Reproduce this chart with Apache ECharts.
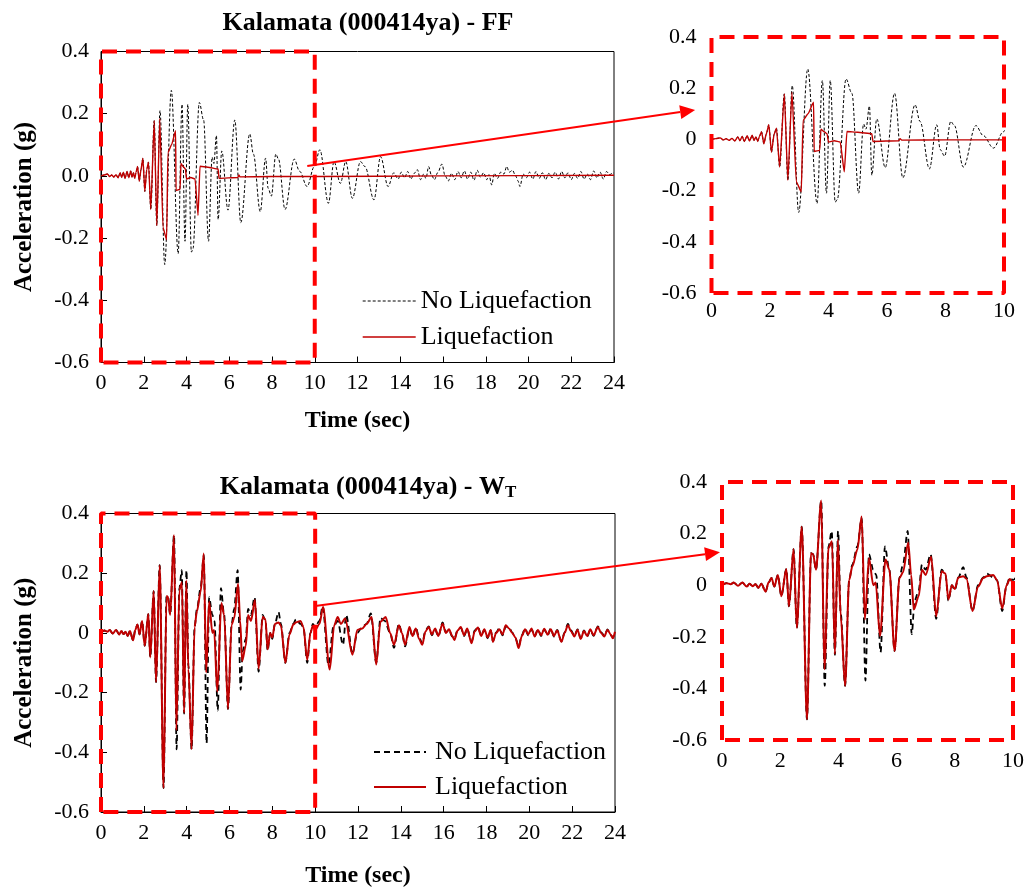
<!DOCTYPE html>
<html>
<head>
<meta charset="utf-8">
<script src="https://cdn.jsdelivr.net/npm/echarts@6/dist/echarts.min.js"></script>
<style>html,body{margin:0;padding:0;background:#fff}#c{width:1027px;height:889px}</style>
</head>
<body>
<div id="c"></div>
<script>
// ---------- DATA (time s, acceleration g) ----------
const ffEarly = [[0,0],[0.15,0.003],[0.3,0.006],[0.4,-0.002],[0.5,0.003],[0.6,-0.004],[0.7,0.004],[0.8,-0.006],[0.9,0.01],[0.97,-0.005],[1.05,0.012],[1.12,-0.008],[1.22,0.014],[1.3,-0.006],[1.39,0.016],[1.45,-0.004],[1.52,0.01],[1.58,-0.008],[1.64,0.012],[1.71,0.03],[1.79,-0.017],[1.87,0.02],[1.96,0.057],[2.05,-0.05],[2.14,0.02],[2.22,0.044],[2.33,-0.108],[2.49,0.178],[2.61,-0.16]];
const ffNoLiqLate = [[2.76,0.21],[2.98,-0.285],[3.29,0.275],[3.61,-0.25],[3.79,0.23],[3.93,-0.21],[4.06,0.23],[4.23,-0.245],[4.3,-0.235],[4.6,0.236],[4.8,0.18],[5.03,-0.21],[5.2,0.06],[5.28,0.04],[5.4,0.13],[5.48,-0.14],[5.65,0.08],[5.94,-0.11],[6.26,0.18],[6.54,-0.15],[6.96,0.135],[7.13,0.07],[7.45,-0.115],[7.7,0.057],[7.82,-0.04],[7.97,-0.065],[8.18,0.07],[8.3,0.055],[8.61,-0.108],[9.04,0.054],[9.29,0.015],[9.64,-0.034],[9.98,0.03],[10.24,0.084],[10.64,-0.088],[10.9,0.046],[11.2,-0.024],[11.45,0.046],[11.76,-0.072],[12.14,0.046],[12.35,0.03],[12.77,-0.077],[13.08,0.062],[13.43,-0.034],[13.7,0.01],[13.9,-0.01],[14.05,0.012],[14.2,-0.006],[14.35,0.014],[14.5,-0.01],[14.65,0.008],[14.8,0.02],[14.95,-0.012],[15.1,0.006],[15.2,-0.008],[15.33,0.03],[15.45,0.004],[15.6,-0.012],[15.75,0.01],[15.95,0.038],[16.1,0.0],[16.25,-0.016],[16.4,0.008],[16.55,-0.012],[16.7,0.014],[16.85,-0.006],[17.0,0.016],[17.15,-0.01],[17.3,0.012],[17.45,-0.014],[17.6,0.018],[17.75,-0.004],[17.9,0.01],[18.05,-0.012],[18.15,0.004],[18.28,-0.029],[18.4,0.008],[18.55,-0.008],[18.7,0.012],[18.85,0.006],[18.98,0.03],[19.1,0.012],[19.25,0.018],[19.4,0.0],[19.5,-0.015],[19.6,-0.034],[19.75,0.006],[19.9,-0.006],[20.05,0.012],[20.2,-0.01],[20.35,0.014],[20.5,-0.008],[20.65,0.01],[20.8,-0.012],[20.95,0.008],[21.1,-0.006],[21.25,0.012],[21.4,-0.01],[21.55,0.014],[21.7,-0.006],[21.85,0.01],[22.0,-0.012],[22.15,0.008],[22.3,-0.008],[22.45,0.014],[22.6,-0.01],[22.75,0.006],[22.9,-0.012],[23.05,0.016],[23.2,-0.006],[23.35,0.012],[23.5,-0.01],[23.65,0.014],[23.8,0.004],[23.95,0.01],[24,0.008]];
const ffLiqLate = [[2.75,0.184],[2.9,-0.166],[3.07,-0.205],[3.13,0.074],[3.3,0.1],[3.49,0.145],[3.51,-0.047],[3.7,-0.043],[3.74,0.04],[3.85,0.03],[3.95,0.022],[4.0,-0.01],[4.2,-0.005],[4.4,-0.01],[4.54,-0.127],[4.63,0.031],[5.0,0.028],[5.48,0.022],[5.52,-0.008],[6.4,-0.005],[6.45,0.003],[6.5,-0.003],[8.0,-0.002],[10,-0.002],[16,0.0],[24,0.002]];

const wtEarly = [[0,0],[0.15,0.008],[0.3,0.004],[0.4,0.01],[0.55,-0.002],[0.7,0.01],[0.85,-0.005],[0.95,0.006],[1.05,-0.004],[1.15,0.004],[1.25,-0.01],[1.35,0.006],[1.5,-0.025],[1.6,0.01],[1.7,0.028],[1.8,-0.005],[1.92,0.04],[2.04,-0.043],[2.21,0.063],[2.3,-0.082],[2.46,0.14],[2.57,-0.165],[2.74,0.227],[2.92,-0.52],[3.06,0.124],[3.13,0.12],[3.23,0.06],[3.41,0.328]];
const wtLiqLate = [[3.52,-0.326],[3.66,0.144],[3.78,0.17],[3.88,-0.268],[3.98,0.176],[4.08,-0.12],[4.23,-0.39],[4.37,0.02],[4.48,0.073],[4.65,0.137],[4.8,0.266],[4.91,-0.133],[5.05,0.105],[5.2,0.0],[5.28,0.01],[5.43,-0.197],[5.62,0.1],[5.75,0.06],[5.93,-0.255],[6.1,0.028],[6.22,0.05],[6.4,0.165],[6.5,0.04],[6.59,-0.094],[6.76,-0.043],[6.87,0.06],[7.0,0.04],[7.19,0.11],[7.36,-0.12],[7.55,0.054],[7.68,0.045],[7.78,-0.055],[7.9,0.0],[8.0,-0.015],[8.12,0.03],[8.29,0.035],[8.4,0.025],[8.61,-0.1],[8.8,-0.005],[8.98,0.028],[9.1,0.035],[9.32,0.04],[9.45,0.02],[9.63,-0.09],[9.78,0.0],[9.89,0.024],[10.0,0.01],[10.2,0.03],[10.37,0.087],[10.68,-0.123],[10.89,0.026],[11.05,0.053],[11.2,0.03],[11.4,0.048],[11.74,-0.073],[11.97,0.01],[12.2,0.015],[12.4,0.03],[12.64,0.053],[12.85,-0.106],[13.05,0.037],[13.29,0.053],[13.5,0.0],[13.68,-0.04],[13.91,0.026],[14.05,0.0],[14.2,-0.04],[14.4,0.02],[14.55,-0.01],[14.7,0.015],[14.85,-0.02],[15.0,-0.04],[15.15,0.005],[15.3,0.02],[15.45,-0.005],[15.6,0.015],[15.75,-0.01],[15.95,0.031],[16.1,0.0],[16.25,0.012],[16.4,-0.01],[16.5,-0.024],[16.65,0.008],[16.8,0.02],[16.95,-0.008],[17.1,0.015],[17.3,-0.035],[17.45,0.005],[17.6,0.018],[17.75,-0.01],[17.9,0.012],[18.05,-0.015],[18.2,0.01],[18.3,-0.03],[18.45,0.0],[18.6,0.012],[18.75,-0.005],[18.9,0.026],[19.05,0.015],[19.2,0.0],[19.35,-0.015],[19.5,-0.051],[19.65,-0.01],[19.8,0.012],[19.95,-0.005],[20.1,0.015],[20.25,-0.012],[20.4,0.01],[20.55,-0.008],[20.7,0.014],[20.85,-0.006],[21.0,0.012],[21.15,-0.01],[21.3,0.008],[21.5,-0.03],[21.65,0.0],[21.8,0.026],[21.95,0.005],[22.1,-0.012],[22.25,0.01],[22.4,-0.02],[22.55,0.006],[22.7,-0.01],[22.85,0.012],[23.0,-0.008],[23.2,0.02],[23.35,0.0],[23.5,-0.012],[23.65,0.01],[23.8,-0.005],[23.9,-0.018],[24,0.004]];
const wtNoLiqLate = [[3.53,-0.39],[3.66,0.15],[3.77,0.21],[3.88,-0.27],[3.99,0.21],[4.08,-0.11],[4.23,-0.39],[4.37,0.02],[4.48,0.08],[4.65,0.15],[4.8,0.26],[4.93,-0.37],[5.05,0.12],[5.2,0.06],[5.3,0.04],[5.45,-0.26],[5.6,0.15],[5.75,0.06],[5.93,-0.255],[6.1,0.03],[6.22,0.08],[6.38,0.21],[6.52,-0.19],[6.62,-0.06],[6.76,-0.02],[6.87,0.08],[7.0,0.06],[7.17,0.12],[7.36,-0.13],[7.55,0.06],[7.68,0.04],[7.78,-0.06],[7.9,0.0],[8.0,-0.02],[8.12,0.03],[8.29,0.07],[8.4,0.03],[8.61,-0.1],[8.8,0.0],[8.98,0.03],[9.1,0.045],[9.32,0.03],[9.45,0.02],[9.63,-0.1],[9.78,0.0],[9.89,0.03],[10.0,0.02],[10.2,0.04],[10.35,0.09],[10.62,-0.107],[10.85,0.02],[11.05,0.04],[11.3,-0.04],[11.45,0.06],[11.74,-0.07],[11.97,0.0],[12.2,0.02],[12.4,0.03],[12.6,0.065],[12.85,-0.1],[13.05,0.05],[13.25,0.04],[13.5,0.0],[13.68,-0.05],[13.91,0.03],[14.05,0.0],[14.2,-0.045],[14.4,0.015],[14.55,-0.012],[14.7,0.018],[14.85,-0.015],[15.0,-0.035],[15.15,0.008],[15.3,0.022],[15.45,-0.008],[15.6,0.012],[15.75,-0.012],[15.95,0.035],[16.1,0.002],[16.25,0.01],[16.4,-0.012],[16.5,-0.02],[16.65,0.01],[16.8,0.018],[16.95,-0.01],[17.1,0.012],[17.3,-0.03],[17.45,0.008],[17.6,0.02],[17.75,-0.008],[17.9,0.01],[18.05,-0.018],[18.2,0.008],[18.3,-0.028],[18.45,0.002],[18.6,0.015],[18.75,-0.008],[18.9,0.022],[19.05,0.018],[19.2,0.002],[19.35,-0.018],[19.5,-0.045],[19.65,-0.008],[19.8,0.015],[19.95,-0.008],[20.1,0.012],[20.25,-0.01],[20.4,0.012],[20.55,-0.01],[20.7,0.012],[20.85,-0.008],[21.0,0.015],[21.15,-0.012],[21.3,0.01],[21.5,-0.028],[21.65,0.002],[21.8,0.03],[21.95,0.008],[22.1,-0.01],[22.25,0.012],[22.4,-0.018],[22.55,0.008],[22.7,-0.012],[22.85,0.01],[23.0,-0.01],[23.2,0.022],[23.35,0.002],[23.5,-0.01],[23.65,0.012],[23.8,-0.008],[23.9,-0.015],[24,0.006]];

const zoomBox = [[0,-0.6],[0,0.4],[10,0.4],[10,-0.6],[0,-0.6]];
const mainXTicks = ['0','2','4','6','8','10','12','14','16','18','20','22','24'];
const insetXTicks = ['0','2','4','6','8','10'];
const ffMainYTicks = ['-0.6','-0.4','-0.2','0.0','0.2','0.4'];
const otherYTicks = ['-0.6','-0.4','-0.2','0','0.2','0.4'];
const titles = ['Kalamata (000414ya) - FF', 'Kalamata (000414ya) - W{sub|T}'];
const seriesNames = ['No Liquefaction', 'Liquefaction'];
const axisNames = {x: 'Time (sec)', y: 'Acceleration (g)'};
// annotation arrows: [from (main chart data), to (inset data)]
const arrowFF = {from: [9.65, 0.032], to: [-0.56, 0.115]};
const arrowWT = {from: [10.0, 0.09], to: [-0.07, 0.128]};

// ---------- STYLE ----------
const FONT = 'Liberation Serif';
const RED = '#c00000';
const BOX = '#ff0000';

function yLab(arr){ return v => arr[Math.round((v + 0.6) / 0.2)]; }
function xLab(arr){ return v => arr[Math.round(v / 2)]; }

function mainX(gi, nameGap){
  return {gridIndex: gi, type:'value', min:0, max:24, interval:2,
    name: axisNames.x, nameLocation:'middle', nameGap: nameGap,
    nameTextStyle:{fontFamily:FONT, fontWeight:'bold', fontSize:24, color:'#000'},
    axisLine:{show:true, onZero:false, lineStyle:{color:'#000', width:1}},
    axisTick:{show:true, inside:true, length:6, lineStyle:{color:'#000'}},
    splitLine:{show:false},
    axisLabel:{fontFamily:FONT, fontSize:22, color:'#000', margin:10, formatter: xLab(mainXTicks)}};
}
function mainY(gi, labels){
  return {gridIndex: gi, type:'value', min:-0.6, max:0.4, interval:0.2,
    name: axisNames.y, nameLocation:'middle', nameGap: 64,
    nameTextStyle:{fontFamily:FONT, fontWeight:'bold', fontSize:25, color:'#000'},
    axisLine:{show:true, onZero:false, lineStyle:{color:'#000', width:1}},
    axisTick:{show:true, inside:true, length:6, lineStyle:{color:'#000'}},
    splitLine:{show:false},
    axisLabel:{fontFamily:FONT, fontSize:22, color:'#000', margin:12, formatter: yLab(labels)}};
}
function insetX(gi, margin){
  return {gridIndex: gi, type:'value', min:0, max:10, interval:2,
    axisLine:{show:false}, axisTick:{show:false}, splitLine:{show:false},
    axisLabel:{fontFamily:FONT, fontSize:22, color:'#000', margin:margin, formatter: xLab(insetXTicks)}};
}
function insetY(gi){
  return {gridIndex: gi, type:'value', min:-0.6, max:0.4, interval:0.2,
    axisLine:{show:false}, axisTick:{show:false}, splitLine:{show:false},
    axisLabel:{fontFamily:FONT, fontSize:22, color:'#000', margin:15, formatter: yLab(otherYTicks)}};
}
function line(name, gi, data, ls, smooth){
  return {type:'line', name: name, xAxisIndex: gi, yAxisIndex: gi, data: data,
    symbol:'none', showSymbol:false, smooth: smooth, smoothMonotone:'x',
    itemStyle:{color: ls.color}, lineStyle: ls, animation:false, silent:true};
}
function box(gi){
  return {type:'line', name:'box', xAxisIndex: gi, yAxisIndex: gi, data: zoomBox,
    symbol:'none', clip:false, silent:true, animation:false, z:5,
    lineStyle:{color:BOX, width:4, type:[15,9]}};
}

const ffNoLiq = ffEarly.concat(ffNoLiqLate);
const ffLiq = ffEarly.concat(ffLiqLate);
const wtNoLiq = wtEarly.concat(wtNoLiqLate);
const wtLiq = wtEarly.concat(wtLiqLate);

const ffNoLiqStyle = {color:'#000', width:1, type:[3,2]};
const ffLiqStyle = {color:RED, width:1.4};
const wtNoLiqStyle = {color:'#000', width:1.8, type:[6,4]};
const wtLiqStyle = {color:RED, width:2};
const hiddenSymbol = {opacity:0, borderWidth:0};

const chart = echarts.init(document.getElementById('c'), null, {renderer:'canvas'});
const option = {
  backgroundColor:'#fff',
  animation:false,
  title: [
    {text: titles[0], left: 363, top: 5, textAlign:'center',
     textStyle:{fontFamily:FONT, fontWeight:'bold', fontSize:26, color:'#000'}},
    {text: titles[1], left: 363, top: 469, textAlign:'center',
     textStyle:{fontFamily:FONT, fontWeight:'bold', fontSize:26, color:'#000',
       rich:{sub:{fontFamily:FONT, fontWeight:'bold', fontSize:17, color:'#000', verticalAlign:'bottom', padding:[10,0,0,0]}}}}
  ],
  legend: [
    {orient:'vertical', left:357, top:283, itemWidth:53, itemHeight:12, itemGap:10,
     textStyle:{fontFamily:FONT, fontSize:26, color:'#000'}, itemStyle: hiddenSymbol,
     data:[{name:seriesNames[0], lineStyle: ffNoLiqStyle, itemStyle: hiddenSymbol}, {name:seriesNames[1], lineStyle: ffLiqStyle, itemStyle: hiddenSymbol}],
     selectedMode:false},
    {orient:'vertical', left:368, top:734, itemWidth:52, itemHeight:12, itemGap:9,
     textStyle:{fontFamily:FONT, fontSize:26, color:'#000', padding:[0,0,0,4]}, itemStyle: hiddenSymbol,
     data:[{name:seriesNames[0], lineStyle: wtNoLiqStyle, itemStyle: hiddenSymbol}, {name:seriesNames[1], lineStyle: wtLiqStyle, itemStyle: hiddenSymbol}],
     selectedMode:false}
  ],
  grid: [
    {left:101, top:51.5, width:513, height:311, show:true, borderColor:'#000', borderWidth:1, backgroundColor:'transparent'},
    {left:711.5, top:37, width:292.5, height:256},
    {left:101, top:513.5, width:514, height:302.5, show:true, borderColor:'#000', borderWidth:1, backgroundColor:'transparent'},
    {left:722, top:482, width:292, height:258}
  ],
  xAxis: [mainX(0, 46), insetX(1, 7), mainX(2, 52), insetX(3, 10)],
  yAxis: [mainY(0, ffMainYTicks), insetY(1), mainY(2, otherYTicks), insetY(3)],
  series: [
    line(seriesNames[0], 0, ffNoLiq, ffNoLiqStyle, 0.35),
    line(seriesNames[1], 0, ffLiq, ffLiqStyle, 0.15),
    box(0),
    line(seriesNames[0], 1, ffNoLiq, ffNoLiqStyle, 0.35),
    line(seriesNames[1], 1, ffLiq, ffLiqStyle, 0.15),
    box(1),
    line(seriesNames[0], 2, wtNoLiq, wtNoLiqStyle, 0.3),
    line(seriesNames[1], 2, wtLiq, wtLiqStyle, 0.3),
    box(2),
    line(seriesNames[0], 3, wtNoLiq, wtNoLiqStyle, 0.3),
    line(seriesNames[1], 3, wtLiq, wtLiqStyle, 0.3),
    box(3)
  ]
};
chart.setOption(option);

function arrowGraphic(p1, p2){
  const dx = p2[0]-p1[0], dy = p2[1]-p1[1];
  const len = Math.hypot(dx, dy), ux = dx/len, uy = dy/len;
  const hl = 15, hw = 7;
  const b = [p2[0]-ux*hl, p2[1]-uy*hl];
  return [
    {type:'line', z:100, shape:{x1:p1[0], y1:p1[1], x2:b[0], y2:b[1]}, style:{stroke:BOX, lineWidth:2}},
    {type:'polygon', z:100, shape:{points:[p2, [b[0]-uy*hw, b[1]+ux*hw], [b[0]+uy*hw, b[1]-ux*hw]]}, style:{fill:BOX}}
  ];
}
const a1 = arrowGraphic(chart.convertToPixel({gridIndex:0}, arrowFF.from), chart.convertToPixel({gridIndex:1}, arrowFF.to));
const a2 = arrowGraphic(chart.convertToPixel({gridIndex:2}, arrowWT.from), chart.convertToPixel({gridIndex:3}, arrowWT.to));
chart.setOption({graphic: a1.concat(a2)});
</script>
</body>
</html>
